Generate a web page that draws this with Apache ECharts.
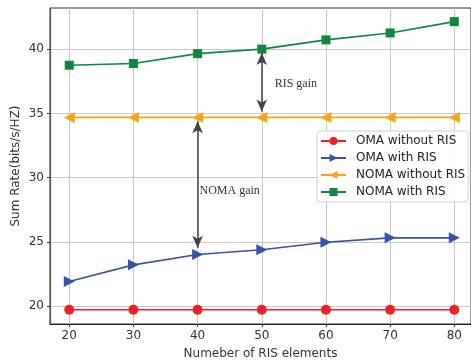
<!DOCTYPE html>
<html>
<head>
<meta charset="utf-8">
<script src="https://cdn.jsdelivr.net/npm/echarts@6/dist/echarts.min.js"></script>
<style>
  html, body { margin: 0; padding: 0; background: #fff; }
  #chart { width: 471px; height: 362px; }
</style>
</head>
<body>
<div id="chart"></div>
<script>
const elements = [20, 30, 40, 50, 60, 70, 80]
const omaWithout = [19.73, 19.73, 19.73, 19.73, 19.73, 19.73, 19.73]
const omaWith = [21.92, 23.22, 24.03, 24.4, 24.98, 25.32, 25.32]
const nomaWithout = [34.69, 34.69, 34.69, 34.69, 34.69, 34.69, 34.69]
const nomaWith = [38.75, 38.88, 39.65, 40.0, 40.72, 41.26, 42.14]

const xTicks = [20, 30, 40, 50, 60, 70, 80]
const yTicks = [20, 25, 30, 35, 40]

// annotation arrows: [x, yFrom, yTo] and labels: [x, y, text]
const risArrow = [50, 35.15, 39.7]
const nomaArrow = [40, 24.55, 34.4]
const gainLabels = [
    [55.3, 37.3, 'RIS gain'],
    [45.0, 29.0, 'NOMA gain'],
]

function pairs(ys) {
    return elements.map(function (x, i) { return [x, ys[i]] })
}

var chartDom = document.getElementById('chart')
var myChart = echarts.init(chartDom)
var option

function lineSeries(name, ys, color, symbol, size, rotate) {
    return {
        name: name,
        type: 'line',
        data: pairs(ys),
        symbol: symbol,
        symbolSize: size,
        symbolRotate: rotate,
        showSymbol: true,
        animation: false,
        lineStyle: { color: color, width: 1.6 },
        itemStyle: { color: color },
        z: 3,
    }
}

function arrowLine(a) {
    return [
        { coord: [a[0], a[1]] },
        { coord: [a[0], a[2]] },
    ]
}

option = {
    animation: false,
    textStyle: { fontFamily: 'DejaVu Sans' },
    grid: {
        left: 50,
        right: 0,
        top: 8,
        bottom: 38,
        outerBoundsMode: 'none',
        containLabel: false,
        show: true,
        borderColor: '#333',
        borderWidth: 1,
    },
    xAxis: {
        type: 'value',
        min: 17,
        max: 82.6,
        name: 'Numeber of RIS elements',
        nameLocation: 'middle',
        nameGap: 24,
        nameTextStyle: { fontSize: 12, color: '#333' },
        axisLine: { lineStyle: { color: '#222', width: 1.2 } },
        axisTick: { show: true, customValues: xTicks, length: 3, lineStyle: { color: '#333' } },
        axisLabel: { customValues: xTicks, fontSize: 12, color: '#333', margin: 6 },
        splitLine: { show: true, lineStyle: { color: '#c8c8c8', width: 1 } },
    },
    yAxis: {
        type: 'value',
        min: 18.62,
        max: 43.2,
        name: 'Sum Rate(bits/s/HZ)',
        nameLocation: 'middle',
        nameGap: 28,
        nameMoveOverlap: false,
        nameTextStyle: { fontSize: 12, color: '#333' },
        axisLine: { show: true, lineStyle: { color: '#555', width: 1.2 } },
        axisTick: { show: true, customValues: yTicks, length: 3, lineStyle: { color: '#333' } },
        axisLabel: { customValues: yTicks, fontSize: 12, color: '#333', margin: 6 },
        splitLine: { show: true, lineStyle: { color: '#c8c8c8', width: 1 } },
    },
    legend: {
        data: ['OMA without RIS', 'OMA with RIS', 'NOMA without RIS', 'NOMA with RIS'],
        orient: 'vertical',
        left: 317,
        top: 131,
        itemWidth: 25,
        itemHeight: 10,
        itemGap: 5,
        padding: [4, 3, 4, 3],
        backgroundColor: 'rgba(255,255,255,0.85)',
        borderColor: '#d0d0d0',
        borderWidth: 1,
        borderRadius: 3,
        textStyle: { fontSize: 12, color: '#222', fontFamily: 'DejaVu Sans', padding: [0, 0, 0, 5] },
    },
    series: [
        lineSeries('OMA without RIS', omaWithout, '#ec2227', 'circle', 10, 0),
        lineSeries('OMA with RIS', omaWith, '#3953a4', 'triangle', 11, -90),
        lineSeries('NOMA without RIS', nomaWithout, '#f8a31b', 'triangle', 11, 90),
        lineSeries('NOMA with RIS', nomaWith, '#108640', 'rect', 9, 0),
        {
            name: 'annotations',
            type: 'line',
            data: [],
            animation: false,
            markLine: {
                animation: false,
                silent: true,
                symbol: ['arrow', 'arrow'],
                symbolSize: [8, 12],
                label: { show: false },
                lineStyle: { type: 'solid', color: '#444', width: 1.5 },
                itemStyle: { color: '#1a1a1a' },
                data: [arrowLine(risArrow), arrowLine(nomaArrow)],
            },
            markPoint: {
                animation: false,
                silent: true,
                symbol: 'rect',
                symbolSize: 0,
                label: {
                    show: true,
                    position: 'inside',
                    color: '#333',
                    fontSize: 12,
                    fontFamily: 'Liberation Serif',
                    formatter: function (p) { return p.name },
                },
                data: gainLabels.map(function (g) {
                    return { name: g[2], coord: [g[0], g[1]] }
                }),
            },
        },
    ],
}

option && myChart.setOption(option)
</script>
</body>
</html>
